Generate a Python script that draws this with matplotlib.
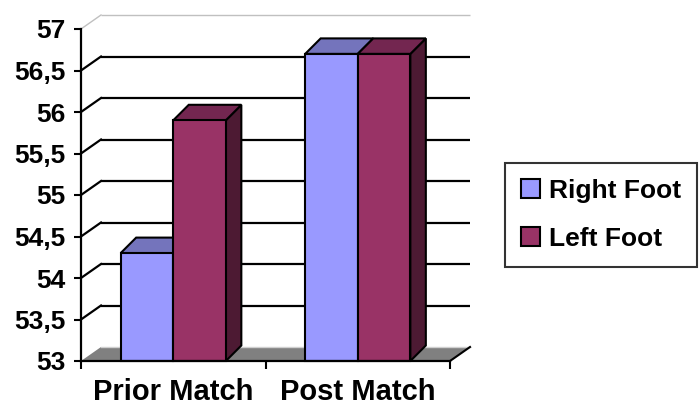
import matplotlib.pyplot as plt
from matplotlib.patches import Polygon, Patch

# datos del grafico
categorias = ['Prior Match', 'Post Match']
series = ['Right Foot', 'Left Foot']
right_foot = [54.3, 56.7]
left_foot = [55.9, 56.7]
yticks = [53, 53.5, 54, 54.5, 55, 55.5, 56, 56.5, 57]
ytick_labels = ['53', '53,5', '54', '54,5', '55', '55,5', '56', '56,5', '57']

col_frente = ['#9999FF', '#993366']
col_tapa = ['#7474BC', '#732650']
col_lado = ['#4D4D80', '#4D1A33']

plt.rcParams['font.family'] = ['Liberation Sans', 'DejaVu Sans']
plt.rcParams['font.weight'] = 'bold'

fig = plt.figure(figsize=(7, 4.08), dpi=100)
ax = fig.add_axes([81 / 700, 47 / 408, 369 / 700, 332 / 408])
ax.set_xlim(-0.5, 1.5)
ax.set_ylim(53, 57)

# profundidad de la pared y de las barras (en unidades de datos)
wx, wy = 20 / 184.5, 14 / 83
bx, by = 15.5 / 184.5, 15.5 / 83
ancho = 0.285

# lineas de la pared del fondo y de la pared izquierda
for v in yticks[1:]:
    c = '#C0C0C0' if v == 57 else 'black'
    lw = 1.0 if v == 57 else 1.6
    ax.plot([-0.5 + wx, 1.5 + wx], [v + wy, v + wy], color=c, lw=lw,
            clip_on=False, zorder=1, solid_capstyle='butt')
    ax.plot([-0.5, -0.5 + wx], [v, v + wy], color=c, lw=lw,
            clip_on=False, zorder=1)

# piso gris
piso = Polygon([(-0.5, 53), (1.5, 53), (1.5 + wx, 53 + wy), (-0.5 + wx, 53 + wy)],
               closed=True, facecolor='#808080', edgecolor='none',
               clip_on=False, zorder=1.5)
ax.add_patch(piso)
ax.plot([-0.5 + wx, 1.5 + wx], [53 + wy, 53 + wy], color='#D0D0D0', lw=1,
        clip_on=False, zorder=1.6)
ax.plot([1.5, 1.5 + wx], [53, 53 + wy], color='black', lw=1.5,
        clip_on=False, zorder=1.6)

# barras 3D
for s, valores in enumerate([right_foot, left_foot]):
    z = 3 + s
    for i, v in enumerate(valores):
        x0 = i - ancho if s == 0 else i
        lado = Polygon([(x0 + ancho, 53), (x0 + ancho + bx, 53 + by),
                        (x0 + ancho + bx, v + by), (x0 + ancho, v)],
                       closed=True, facecolor=col_lado[s], edgecolor='black',
                       lw=1.5, clip_on=False, zorder=z)
        tapa = Polygon([(x0, v), (x0 + ancho, v), (x0 + ancho + bx, v + by),
                        (x0 + bx, v + by)],
                       closed=True, facecolor=col_tapa[s], edgecolor='black',
                       lw=1.5, clip_on=False, zorder=z)
        ax.add_patch(lado)
        ax.add_patch(tapa)
    xs = [i - ancho if s == 0 else i for i in range(len(valores))]
    ax.bar(xs, [v - 53 for v in valores], bottom=53, width=ancho, align='edge',
           color=col_frente[s], edgecolor='black', lw=1.5, zorder=z + 0.1,
           clip_on=False)

# ejes
for lado in ['top', 'right', 'bottom']:
    ax.spines[lado].set_visible(False)
ax.spines['left'].set_linewidth(1.6)
ax.spines['left'].set_zorder(6)
ax.plot([-0.5, 1.5], [53, 53], color='black', lw=1.6, clip_on=False, zorder=6)

ax.set_yticks(yticks)
ax.set_yticklabels(ytick_labels)
ax.tick_params(axis='y', length=5, width=1.5, pad=6, labelsize=19)
for t in ax.get_yticklabels():
    t.set_fontweight('bold')

ax.set_xticks([0, 1])
ax.set_xticklabels(categorias)
ax.set_xticks([-0.5, 0.5, 1.5], minor=True)
ax.tick_params(axis='x', which='major', length=0, pad=12, labelsize=21)
ax.tick_params(axis='x', which='minor', length=6, width=1.5)
for t in ax.get_xticklabels():
    t.set_fontweight('bold')

# leyenda
handles = [Patch(facecolor=col_frente[k], edgecolor='black', lw=1.5, label=series[k])
           for k in range(2)]
leg = fig.legend(handles=handles, loc='center', bbox_to_anchor=(601 / 700, 1 - 215 / 408),
                 fancybox=False, frameon=True, edgecolor='black',
                 prop={'size': 19, 'weight': 'bold'},
                 handlelength=0.72, handleheight=0.72, handletextpad=0.35,
                 labelspacing=0.9, borderpad=0.6)
leg.get_frame().set_linewidth(1.5)

fig.savefig('out.png', dpi=100)
